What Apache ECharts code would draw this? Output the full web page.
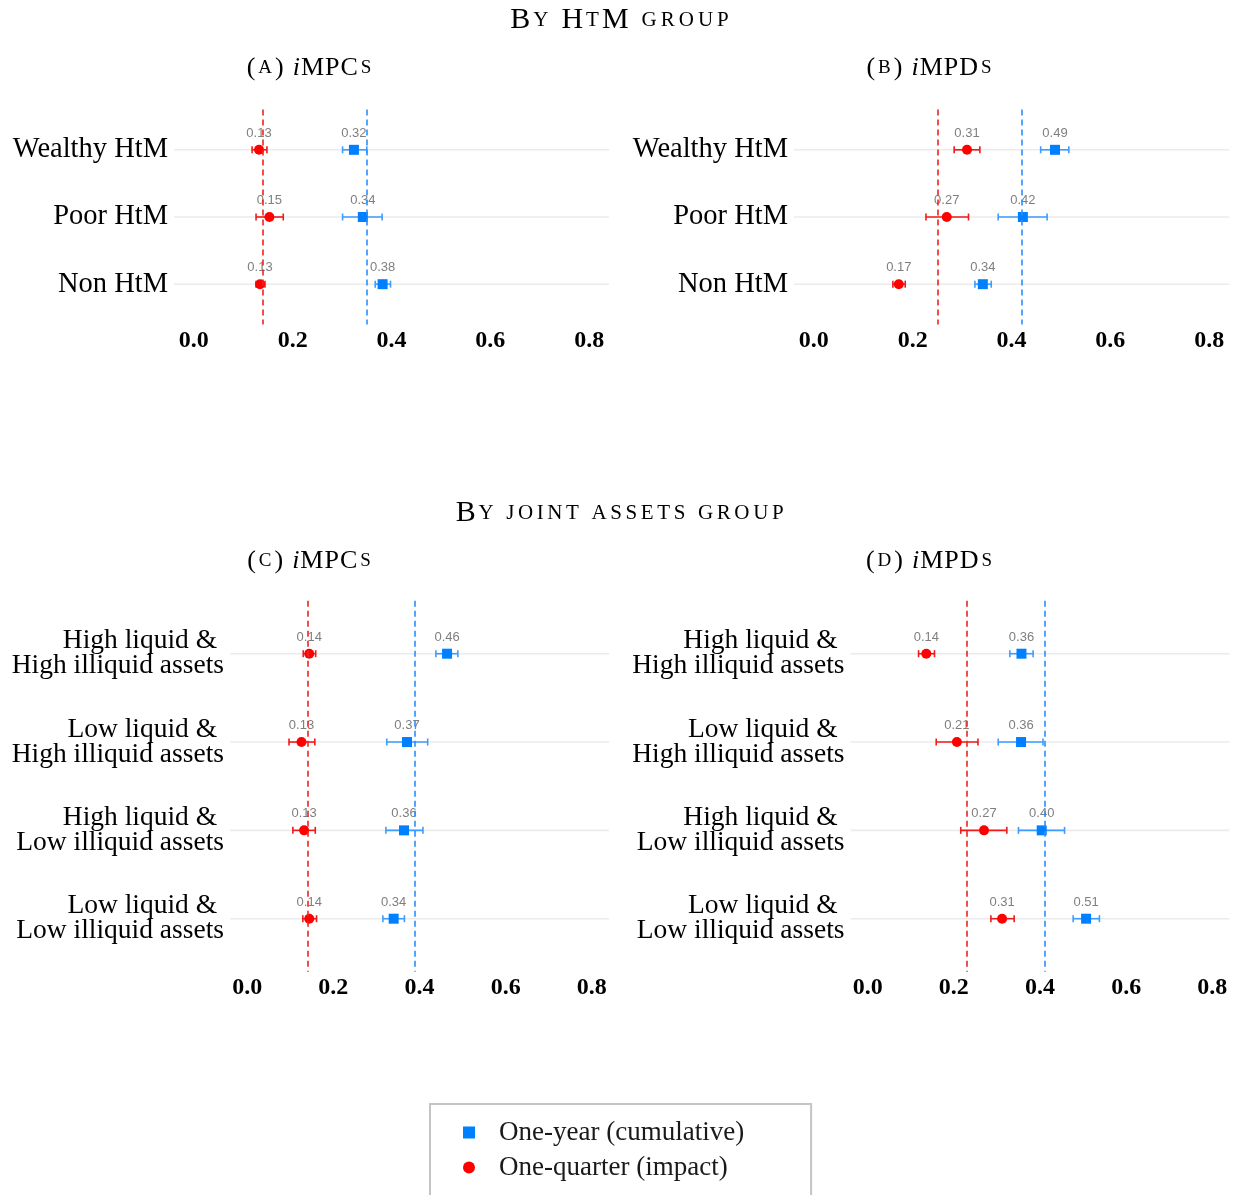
<!DOCTYPE html>
<html>
<head>
<meta charset="utf-8">
<script src="https://cdn.jsdelivr.net/npm/echarts@6/dist/echarts.min.js"></script>
<style>html,body{margin:0;padding:0;background:#fff;}#c{width:1236px;height:1195px;}</style>
</head>
<body>
<div id="c"></div>
<script>
// ---------- data ----------
const htmCats = ['Wealthy HtM', 'Poor HtM', 'Non HtM'];
const jointCats = ['High liquid & \nHigh illiquid assets', 'Low liquid & \nHigh illiquid assets', 'High liquid & \nLow illiquid assets', 'Low liquid & \nLow illiquid assets'];
const xTicks = [0, 0.2, 0.4, 0.6, 0.8];
const seriesNames = ['One-year (cumulative)', 'One-quarter (impact)'];
const sectionTitles = ['By HtM group', 'By joint assets group'];
const panelTitles = [['(a) ', 'MPCs'], ['(b) ', 'MPDs'], ['(c) ', 'MPCs'], ['(d) ', 'MPDs']];

// (a) iMPCs by HtM group
const aQuarter = [0.132, 0.153, 0.134];
const aQuarterLo = [0.118, 0.126, 0.126];
const aQuarterHi = [0.148, 0.181, 0.144];
const aYear = [0.324, 0.342, 0.382];
const aYearLo = [0.301, 0.301, 0.367];
const aYearHi = [0.350, 0.381, 0.398];
const aMeans = [0.350, 0.140]; // [year, quarter]

// (b) iMPDs by HtM group
const bQuarter = [0.310, 0.269, 0.172];
const bQuarterLo = [0.284, 0.227, 0.160];
const bQuarterHi = [0.336, 0.313, 0.185];
const bYear = [0.488, 0.423, 0.342];
const bYearLo = [0.459, 0.373, 0.326];
const bYearHi = [0.516, 0.472, 0.359];
const bMeans = [0.417, 0.251];

// (c) iMPCs by joint assets group
const cQuarter = [0.144, 0.126, 0.132, 0.144];
const cQuarterLo = [0.130, 0.097, 0.106, 0.129];
const cQuarterHi = [0.159, 0.157, 0.158, 0.161];
const cYear = [0.464, 0.371, 0.364, 0.340];
const cYearLo = [0.438, 0.324, 0.322, 0.315];
const cYearHi = [0.489, 0.419, 0.408, 0.365];
const cMeans = [0.385, 0.137];

// (d) iMPDs by joint assets group
const dQuarter = [0.136, 0.207, 0.270, 0.312];
const dQuarterLo = [0.118, 0.159, 0.216, 0.286];
const dQuarterHi = [0.155, 0.256, 0.323, 0.340];
const dYear = [0.357, 0.356, 0.404, 0.507];
const dYearLo = [0.330, 0.303, 0.350, 0.477];
const dYearHi = [0.384, 0.407, 0.457, 0.538];
const dMeans = [0.406, 0.230];

// ---------- styling ----------
const SERIF = '"Liberation Serif", "DejaVu Serif", serif';
const SANS = '"Liberation Sans", Arial, sans-serif';
const BLUE = '#0080ff', BLUE_ERR = '#3d9cff', BLUE_LINE = '#2b8fff';
const RED = '#ff0000', RED_ERR = '#f01a1a', RED_LINE = '#ee2222';

const panels = [
  {cats: htmCats, fs: 28.5, grid: {left: 174, top: 109.5, width: 435, height: 215},
   q: [aQuarter, aQuarterLo, aQuarterHi], y: [aYear, aYearLo, aYearHi], means: aMeans},
  {cats: htmCats, fs: 28.5, grid: {left: 794, top: 109.5, width: 435, height: 215},
   q: [bQuarter, bQuarterLo, bQuarterHi], y: [bYear, bYearLo, bYearHi], means: bMeans},
  {cats: jointCats, fs: 27.5, grid: {left: 230, top: 600.7, width: 379, height: 371},
   q: [cQuarter, cQuarterLo, cQuarterHi], y: [cYear, cYearLo, cYearHi], means: cMeans},
  {cats: jointCats, fs: 27.5, grid: {left: 850.5, top: 600.7, width: 379, height: 371},
   q: [dQuarter, dQuarterLo, dQuarterHi], y: [dYear, dYearLo, dYearHi], means: dMeans}
];

const grids = [], xAxes = [], yAxes = [], series = [];

function errBar(gi, lo, hi, color) {
  return {
    type: 'custom', xAxisIndex: gi, yAxisIndex: gi, z: 3, silent: true,
    data: lo.map((l, i) => [l, hi[i], i + 1]),
    encode: {x: [0, 1], y: 2},
    renderItem: function (params, api) {
      const yv = api.value(2);
      const p1 = api.coord([api.value(0), yv]);
      const p2 = api.coord([api.value(1), yv]);
      const h = 3.5, st = {stroke: color, lineWidth: 1.6};
      return {type: 'group', children: [
        {type: 'line', shape: {x1: p1[0], y1: p1[1], x2: p2[0], y2: p2[1]}, style: st},
        {type: 'line', shape: {x1: p1[0], y1: p1[1] - h, x2: p1[0], y2: p1[1] + h}, style: st},
        {type: 'line', shape: {x1: p2[0], y1: p2[1] - h, x2: p2[0], y2: p2[1] + h}, style: st}
      ]};
    }
  };
}

function pointSeries(gi, name, vals, symbol, color, mean, lineColor) {
  return {
    type: 'scatter', name: name, xAxisIndex: gi, yAxisIndex: gi, z: 4,
    symbol: symbol, symbolSize: 10,
    itemStyle: {color: color, opacity: 1},
    data: vals.map((v, i) => [v, i + 1]),
    label: {
      show: true, position: 'top', distance: 5,
      formatter: p => p.value[0].toFixed(2),
      color: '#7f7f7f', fontSize: 13, fontFamily: SANS
    },
    markLine: {
      silent: true, symbol: ['none', 'none'], label: {show: false}, animation: false,
      lineStyle: {type: [6, 4], color: lineColor, width: 1.6, opacity: 1},
      emphasis: {disabled: true},
      data: [{xAxis: mean}]
    }
  };
}

panels.forEach((p, gi) => {
  const n = p.cats.length;
  grids.push(Object.assign({containLabel: false}, p.grid));
  xAxes.push({
    type: 'value', gridIndex: gi, min: -0.04, max: 0.84,
    axisLine: {show: false}, axisTick: {show: false}, splitLine: {show: false},
    axisLabel: {
      customValues: xTicks, margin: 4,
      formatter: v => v.toFixed(1),
      fontFamily: SERIF, fontWeight: 'bold', fontSize: 24, color: '#000'
    }
  });
  yAxes.push({
    type: 'value', gridIndex: gi, min: 0.4, max: n + 0.6, inverse: true,
    axisLine: {show: false}, axisTick: {show: false}, splitLine: {show: false},
    axisLabel: {
      customValues: p.cats.map((c, i) => i + 1), margin: 6,
      formatter: v => p.cats[Math.round(v) - 1] || '',
      fontFamily: SERIF, fontSize: p.fs, lineHeight: 25, color: '#000', align: 'right'
    }
  });
  // horizontal gridlines at category positions
  series.push({
    type: 'custom', xAxisIndex: gi, yAxisIndex: gi, z: 1, silent: true,
    data: p.cats.map((c, i) => [0, i + 1]),
    encode: {x: 0, y: 1},
    renderItem: function (params, api) {
      const cs = params.coordSys;
      const y = api.coord([0, api.value(1)])[1];
      return {type: 'line', shape: {x1: cs.x, y1: y, x2: cs.x + cs.width, y2: y},
        style: {stroke: '#ebebeb', lineWidth: 1.6}};
    }
  });
  series.push(errBar(gi, p.y[1], p.y[2], BLUE_ERR));
  series.push(errBar(gi, p.q[1], p.q[2], RED_ERR));
  series.push(pointSeries(gi, seriesNames[0], p.y[0], 'rect', BLUE, p.means[0], BLUE_LINE));
  series.push(pointSeries(gi, seriesNames[1], p.q[0], 'circle', RED, p.means[1], RED_LINE));
});

// small-caps emulation: uppercase -> big token, lowercase -> small capital token
function smallCaps(str) {
  let out = '';
  for (const ch of str) {
    if (ch === ' ') out += '{sp| }';
    else if (ch >= 'a' && ch <= 'z') out += '{s|' + ch.toUpperCase() + '}';
    else out += '{b|' + ch + '}';
  }
  return out;
}

function scTitle(text, x, top, big, small, bigPad, smallPad, spW) {
  const base = {fontFamily: SERIF, color: '#000', fontWeight: 'normal'};
  return {
    text: text, left: x, top: top, textAlign: 'center', padding: 0,
    textStyle: {
      fontWeight: 'normal', fontFamily: SERIF,
      rich: {
        b: Object.assign({fontSize: big, padding: [0, bigPad, 0, bigPad]}, base),
        s: Object.assign({fontSize: small, padding: [0, smallPad, 0, smallPad]}, base),
        i: Object.assign({fontSize: big, fontStyle: 'italic', padding: [0, bigPad, 0, bigPad]}, base),
        sp: Object.assign({fontSize: big, width: spW}, base)
      }
    }
  };
}

const titles = [
  scTitle(smallCaps(sectionTitles[0]), 620, 5, 30, 21, 1, 2, 10),
  scTitle(smallCaps(sectionTitles[1]), 620, 498, 30, 21, 1, 1.8, 9)
];
const panelCenters = [[310, 55], [930, 55], [310, 548], [930, 548]];
panelTitles.forEach((t, i) => {
  titles.push(scTitle(smallCaps(t[0]) + '{i|i}' + smallCaps(t[1]), panelCenters[i][0], panelCenters[i][1], 26, 19, 0.5, 2.5, 8));
});

const option = {
  animation: false,
  backgroundColor: '#fff',
  title: titles,
  legend: {
    left: 430, top: 1104, orient: 'vertical', height: 70,
    padding: [15, 67, 30, 33],
    borderColor: '#c4c4c4', borderWidth: 2,
    itemWidth: 12, itemHeight: 12, itemGap: 8,
    textStyle: {fontFamily: SERIF, fontSize: 27, lineHeight: 27, color: '#1a1a1a', padding: [0, 0, 0, 19]},
    data: [{name: seriesNames[0], icon: 'rect'}, {name: seriesNames[1], icon: 'circle'}]
  },
  grid: grids,
  xAxis: xAxes,
  yAxis: yAxes,
  series: series
};

const chart = echarts.init(document.getElementById('c'), null, {renderer: 'canvas'});
chart.setOption(option);
</script>
</body>
</html>
